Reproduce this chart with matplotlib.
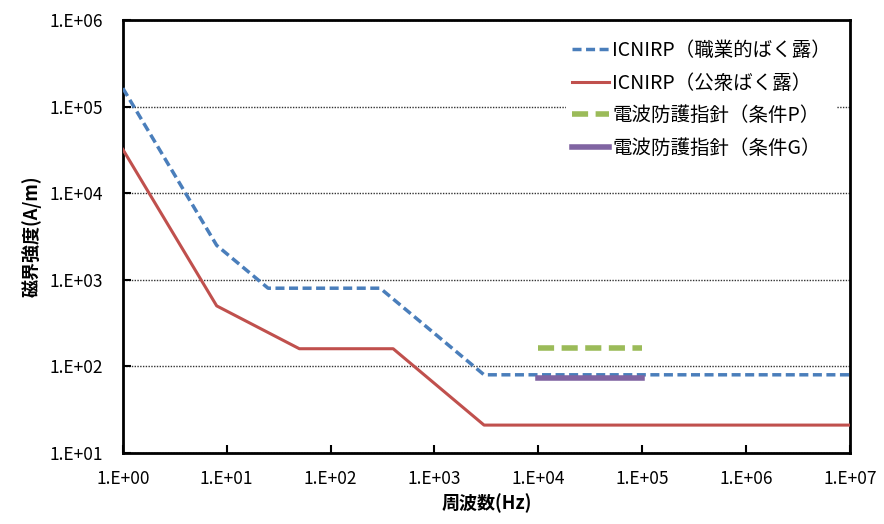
import numpy as np
import matplotlib.pyplot as plt

plt.rcParams['font.family'] = ['Noto Sans CJK JP', 'DejaVu Sans']

# ICNIRP 職業的ばく露
occ_f = [1, 8, 25, 300, 3000, 1e7]
occ_h = [163000, 2500, 800, 800, 80, 80]
# ICNIRP 公衆ばく露
pub_f = [1, 8, 50, 400, 3000, 1e7]
pub_h = [32000, 500, 160, 160, 21, 21]
# 電波防護指針
p_f = [1e4, 1e5]
p_h = [163, 163]
g_f = [1e4, 1e5]
g_h = [72.8, 72.8]

xticks = [1, 1e1, 1e2, 1e3, 1e4, 1e5, 1e6, 1e7]
xlabels = ['1.E+00', '1.E+01', '1.E+02', '1.E+03', '1.E+04', '1.E+05', '1.E+06', '1.E+07']
yticks = [1e1, 1e2, 1e3, 1e4, 1e5, 1e6]
ylabels = ['1.E+01', '1.E+02', '1.E+03', '1.E+04', '1.E+05', '1.E+06']

fig = plt.figure(figsize=(8.84, 5.24), dpi=100)
ax = fig.add_axes([0.139, 0.1355, 0.8225, 0.8263])

ax.plot(occ_f, occ_h, color='#4a7ebb', lw=2.5, ls=(0, (2.6, 1.3)), label='ICNIRP（職業的ばく露）', zorder=3)
ax.plot(pub_f, pub_h, color='#c0504d', lw=2.2, label='ICNIRP（公衆ばく露）', zorder=3)
ax.plot(p_f, p_h, color='#9bbb59', lw=4, ls=(0, (2.9, 1.35)), label='電波防護指針（条件P）', zorder=3)
ax.plot(g_f, g_h, color='#8064a2', lw=4, label='電波防護指針（条件G）', zorder=3)

ax.set_xscale('log')
ax.set_yscale('log')
ax.set_xlim(1, 1e7)
ax.set_ylim(10, 1e6)
ax.set_xticks(xticks)
ax.set_xticklabels(xlabels)
ax.set_yticks(yticks)
ax.set_yticklabels(ylabels)
ax.minorticks_off()
ax.tick_params(axis='both', direction='in', length=6, width=1.5, labelsize=12.5)
ax.tick_params(axis='y', pad=14)
ax.tick_params(axis='x', pad=12)

for s in ax.spines.values():
    s.set_linewidth(2)

ax.yaxis.grid(True, color='#333333', ls=(0, (1, 1)), lw=1)
ax.set_axisbelow(True)

ax.set_xlabel('周波数(Hz)', fontsize=13, fontweight='bold', labelpad=4)
ax.set_ylabel('磁界強度(A/m)', fontsize=13, fontweight='bold', labelpad=6)

leg = ax.legend(loc='upper right', bbox_to_anchor=(0.995, 0.99), frameon=True, fontsize=14,
                handlelength=1.9, handletextpad=0.15, labelspacing=0.6, borderpad=0.3)
leg.get_frame().set_edgecolor('none')
leg.get_frame().set_facecolor('white')
leg.get_frame().set_alpha(1)

fig.savefig('out.png', dpi=100)
